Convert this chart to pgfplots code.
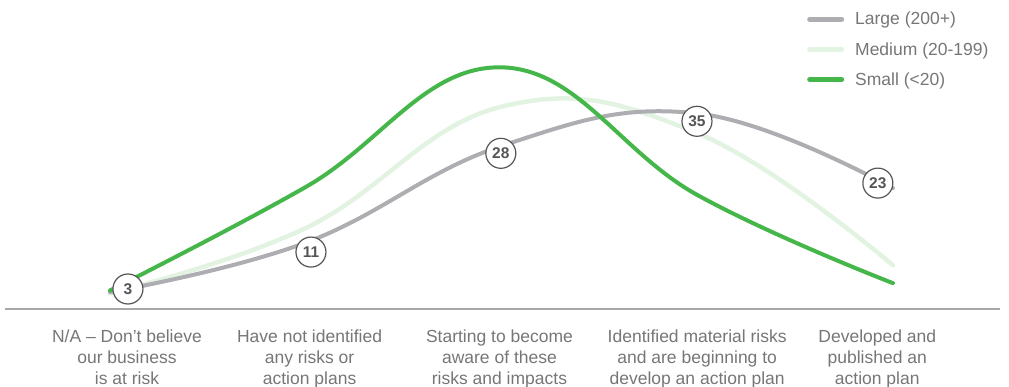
\documentclass[border=0pt]{standalone}
\usepackage{pgfplots}
\pgfplotsset{compat=1.18}
\usepackage{fontspec}
\setmainfont{Liberation Sans}
\definecolor{cLarge}{HTML}{ADADB2}
\definecolor{cMed}{HTML}{E2F3E2}
\definecolor{cSmall}{HTML}{45B649}
\definecolor{txt}{HTML}{767676}
\definecolor{lab}{HTML}{555555}
\definecolor{axisgray}{HTML}{A8A8A8}
\begin{document}
\begin{tikzpicture}
\useasboundingbox (0,0) rectangle (1009pt,387pt);
\begin{axis}[
  at={(5pt,78pt)}, anchor=south west,
  scale only axis, width=995pt, height=281pt,
  xmin=-0.536, xmax=4.547, ymin=0, ymax=50,
  axis y line=none, axis x line*=bottom,
  axis line style={draw=axisgray, line width=1.5pt, -},
  xtick={0.087,1.02,1.99,3.0,3.92},
  xticklabels={{N/A -- Don't believe\\our business\\is at risk},
               {Have not identified\\any risks or\\action plans},
               {Starting to become\\aware of these\\risks and impacts},
               {Identified material risks\\and are beginning to\\develop an action plan},
               {Developed and\\published an\\action plan}},
  major tick length=0pt, ytick=\empty,
  xticklabel style={align=center, font=\fontsize{17.5}{21}\selectfont, text=txt, anchor=north, inner sep=0pt, yshift=-21pt},
  clip=false,
  legend style={at={(0.806,1.057)}, anchor=north west, draw=none, fill=none,
     font=\fontsize{17.5}{21}\selectfont, text=txt, row sep=16pt, inner sep=0pt,
     nodes={inner sep=0pt}, /tikz/every odd column/.append style={column sep=11pt}},
  legend cell align=left,
  legend image code/.code={\draw[#1, line width=5pt, line cap=round] (2.5pt,0pt) -- (34.5pt,0pt);},
]
\addlegendimage{cLarge}\addlegendentry{Large (200+)}
\addlegendimage{cMed}\addlegendentry{Medium (20-199)}
\addlegendimage{cSmall}\addlegendentry{Small (<20)}

\addplot[smooth, tension=0.7, cMed, line width=4.5pt, line cap=round, forget plot] coordinates {(0,2.8) (1,14.4) (2,36) (3,31.3) (4,7.8)};
\addplot[smooth, tension=0.7, cLarge, line width=4pt, line cap=round, forget plot] coordinates {(0,3) (1,11.8) (2,29) (3,34.8) (4,21.5)};
\addplot[smooth, tension=0.7, cSmall, line width=4pt, line cap=round, forget plot] coordinates {(0,3.3) (1,21.7) (2,43) (3,20.3) (4,4.6)};

\addplot[draw=none, mark=none, forget plot, nodes near coords, point meta=explicit symbolic,
  every node near coord/.style={circle, draw=lab, fill=white, line width=1.2pt, minimum size=30pt, inner sep=0pt, anchor=center, text=lab, font=\fontsize{15.5}{17}\selectfont\bfseries}]
  coordinates {(0.092,3.56)[3] (1.027,10.13)[11] (1.997,27.7)[28] (2.999,33.4)[35] (3.923,22.4)[23]};
\end{axis}
\end{tikzpicture}
\end{document}
